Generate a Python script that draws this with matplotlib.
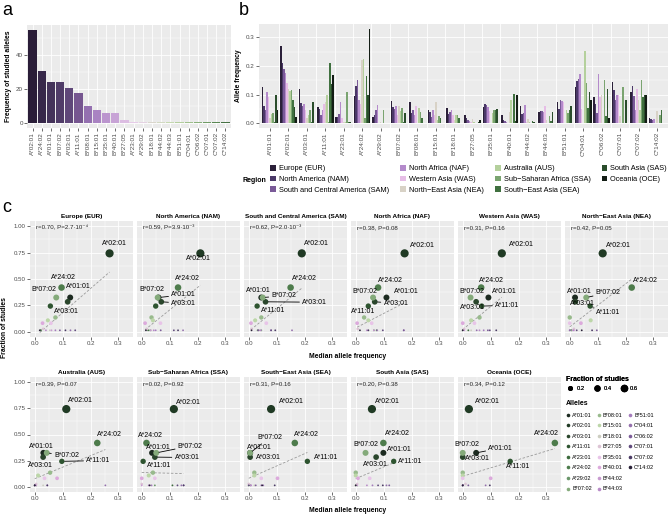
import numpy as np
import matplotlib.pyplot as plt
from matplotlib.lines import Line2D
from matplotlib.patches import Patch

plt.rcParams['font.family'] = ['Liberation Sans', 'DejaVu Sans']

W, H = 669, 515
BG = "#EBEBEB"
TXT = "#4D4D4D"

# ---------------- data ----------------
alleles = ["A*01:01", "A*02:01", "A*03:01", "A*11:01", "A*23:01", "A*24:02", "A*29:02",
           "B*07:02", "B*08:01", "B*15:01", "B*18:01", "B*27:05", "B*35:01", "B*40:01",
           "B*44:02", "B*44:03", "B*51:01", "C*04:01", "C*06:02", "C*07:01", "C*07:02", "C*14:02"]

# panel a: number of studies per allele (ranked)
ranked_alleles = ["A*02:01", "A*24:02", "A*01:01", "B*07:02", "A*03:01", "A*11:01", "B*08:01",
                  "B*15:01", "B*35:01", "B*40:01", "B*27:05", "A*23:01", "A*29:02", "B*18:01",
                  "B*44:02", "B*44:03", "B*51:01", "C*04:01", "C*06:02", "C*07:01", "C*07:02", "C*14:02"]
ranked_counts = [55, 31, 24, 24, 21, 18, 10, 8, 6, 6, 2, 1, 1, 1, 1, 1, 1, 1, 1, 1, 1, 1]
n_studies = 74

region_names = ["Europe (EUR)", "North America (NAM)", "South and Central America (SAM)",
                "North Africa (NAF)", "Western Asia (WAS)", "North\u2212East Asia (NEA)",
                "Australia (AUS)", "Sub\u2212Saharan Africa (SSA)", "South\u2212East Asia (SEA)",
                "South Asia (SAS)", "Oceania (OCE)"]
region_codes = ["EUR", "NAM", "SAM", "NAF", "WAS", "NEA", "AUS", "SSA", "SEA", "SAS", "OCE"]

# allele frequencies per region (same allele order as `alleles`)
freq_EUR = [.127, .268, .118, .056, .022, .096, .022, .077, .074, .047, .054, .030, .058, .028, .060, .040, .074, .128, .090, .145, .110, .018]
freq_NAM = [.060, .210, .070, .050, .023, .130, .030, .057, .035, .040, .033, .018, .067, .012, .032, .043, .050, .148, .068, .115, .130, .015]
freq_SAM = [.045, .190, .060, .030, .032, .150, .045, .050, .045, .023, .040, .010, .063, .008, .035, .043, .080, .155, .035, .080, .095, .010]
freq_NAF = [.110, .175, .068, .045, .075, .080, .065, .062, .030, .045, .046, .007, .057, .005, .065, .040, .077, .172, .172, .097, .045, .015]
freq_WAS = [.092, .140, .048, .068, .020, .066, .000, .028, .060, .030, .030, .005, .042, .000, .005, .060, .075, .050, .090, .097, .120, .000]
freq_NEA = [.019, .118, .020, .073, .005, .222, .005, .059, .000, .075, .010, .015, .000, .040, .015, .012, .000, .000, .097, .025, .080, .043]
freq_AUS = [.031, .113, .030, .097, .005, .224, .000, .043, .055, .012, .030, .005, .035, .080, .005, .000, .045, .253, .000, .000, .045, .000]
freq_SSA = [.037, .115, .047, .005, .110, .017, .047, .052, .040, .025, .030, .000, .047, .000, .000, .025, .035, .142, .150, .128, .150, .028]
freq_SEA = [.005, .080, .005, .210, .005, .165, .000, .005, .020, .020, .020, .000, .045, .103, .008, .008, .045, .052, .025, .000, .093, .048]
freq_SAS = [.099, .058, .073, .136, .005, .099, .000, .035, .000, .000, .000, .005, .050, .008, .005, .040, .060, .110, .120, .080, .097, .000]
freq_OCE = [.048, .022, .000, .170, .000, .330, .000, .000, .000, .000, .000, .010, .000, .100, .000, .000, .000, .082, .020, .000, .097, .000]

freqs = {"EUR": freq_EUR, "NAM": freq_NAM, "SAM": freq_SAM, "NAF": freq_NAF, "WAS": freq_WAS,
         "NEA": freq_NEA, "AUS": freq_AUS, "SSA": freq_SSA, "SEA": freq_SEA, "SAS": freq_SAS,
         "OCE": freq_OCE}

r_text = {"EUR": "r=0.70, P=2.7\u00b710\u207b\u2074", "NAM": "r=0.59, P=3.9\u00b710\u207b\u00b3",
          "SAM": "r=0.62, P=2.0\u00b710\u207b\u00b3", "NAF": "r=0.38, P=0.08",
          "WAS": "r=0.31, P=0.16", "NEA": "r=0.42, P=0.05", "AUS": "r=0.39, P=0.07",
          "SSA": "r=0.02, P=0.92", "SEA": "r=0.31, P=0.16", "SAS": "r=0.20, P=0.38",
          "OCE": "r=0.34, P=0.12"}

# label placement for the repelled labels (x, y, draw segment)
label_pos = {
    "EUR": {"A*02:01": (.286, .84, 0), "A*24:02": (.102, .51, 0), "B*07:02": (.033, .40, 0),
            "A*01:01": (.158, .43, 0), "A*03:01": (.114, .19, 0)},
    "NAM": {"A*02:01": (.204, .69, 0), "A*24:02": (.165, .50, 0), "B*07:02": (.037, .40, 0),
            "A*01:01": (.15, .35, 1), "A*03:01": (.15, .27, 1)},
    "SAM": {"A*02:01": (.242, .84, 0), "A*24:02": (.20, .50, 0), "A*01:01": (.033, .39, 0),
            "B*07:02": (.126, .34, 1), "A*03:01": (.236, .28, 1), "A*11:01": (.087, .20, 0)},
    "NAF": {"A*02:01": (.239, .82, 0), "A*24:02": (.126, .49, 0), "B*07:02": (.031, .38, 0),
            "A*01:01": (.18, .38, 0), "A*03:01": (.144, .27, 1), "A*11:01": (.025, .19, 0)},
    "WAS": {"A*02:01": (.212, .83, 0), "A*24:02": (.103, .49, 0), "B*07:02": (.034, .38, 0),
            "A*01:01": (.15, .38, 0), "A*03:01": (.034, .23, 0), "A*11:01": (.159, .25, 1)},
    "NEA": {"A*02:01": (.174, .82, 0), "A*24:02": (.27, .49, 0), "A*01:01": (.035, .38, 0),
            "B*07:02": (.138, .37, 1), "A*03:01": (.047, .27, 0), "A*11:01": (.138, .18, 1)},
    "AUS": {"A*02:01": (.165, .83, 0), "A*24:02": (.269, .50, 0), "A*01:01": (.025, .385, 0),
            "B*07:02": (.114, .30, 1), "A*03:01": (.019, .20, 0), "A*11:01": (.228, .25, 1)},
    "SSA": {"A*02:01": (.168, .81, 0), "A*24:02": (.031, .49, 0), "A*01:01": (.058, .38, 0),
            "B*07:02": (.174, .39, 1), "A*03:01": (.162, .28, 1), "A*11:01": (.061, .20, 0)},
    "SEA": {"A*02:01": (.152, .82, 0), "A*24:02": (.206, .50, 0), "B*07:02": (.075, .47, 1),
            "A*01:01": (.039, .38, 0), "A*03:01": (.069, .28, 0), "A*11:01": (.278, .28, 0)},
    "SAS": {"A*02:01": (.114, .82, 0), "A*24:02": (.15, .51, 0), "B*07:02": (.037, .40, 0),
            "A*01:01": (.156, .36, 0), "A*03:01": (.07, .21, 0), "A*11:01": (.194, .245, 0)},
    "OCE": {"A*02:01": (.087, .82, 0), "A*24:02": (.30, .51, 0), "B*07:02": (.015, .40, 0),
            "A*01:01": (.136, .37, 1), "A*03:01": (.051, .27, 0), "A*11:01": (.20, .19, 0)},
}

# ---------------- colours ----------------
region_colors = ["#2b2039", "#4b3868", "#7a5a98", "#b48acb", "#e6bde6", "#d8d2c6",
                 "#b4d09c", "#7aa470", "#40703f", "#2a4d2b", "#131d15"]
rank_colors = ["#2a1d38", "#37284a", "#44335a", "#503c68", "#5f4779", "#765690", "#9470b0",
               "#a983c2", "#bb95ce", "#c8a4d6", "#dcbde2", "#e6cbe8", "#e4d2e2", "#dad6cc",
               "#d2d9c2", "#c5d8b0", "#b4cf9e", "#9fc08c", "#88b07a", "#709c66", "#5a8854", "#467244"]
allele_colors = ["#1c2a20", "#203a24", "#2a462c", "#2e5430", "#3c6a3c", "#4e7c4c", "#6a966a",
                 "#84aa7a", "#98ba8c", "#bcd6a8", "#cccdc0", "#dcc4d4", "#e8c4e8", "#dcaadc",
                 "#c89ad0", "#b88ac8", "#a47cbc", "#9470ac", "#7c5c98", "#604a7c", "#4a3a64", "#282036"]


def px_axes(fig, l, t, r, b):
    return fig.add_axes([l / W, 1 - b / H, (r - l) / W, (b - t) / H])


def gg_style(ax, fs=4.5):
    ax.set_facecolor(BG)
    for s in ax.spines.values():
        s.set_visible(False)
    ax.tick_params(which="major", length=2, width=0.5, color="#333333",
                   labelsize=fs, labelcolor=TXT, pad=1)
    ax.tick_params(which="minor", length=0)
    ax.set_axisbelow(True)


def point_size(v, vmin=1 / 74, vmax=55 / 74):
    # ggplot-like area scale: diameter linear in sqrt of rescaled value
    d_px = 1.8 + np.sqrt(np.clip((np.asarray(v) - vmin) / (vmax - vmin), 0, None)) * 6.4
    return d_px / 1.389


fig = plt.figure(figsize=(W / 100, H / 100), dpi=100)

# ---------------- panel a ----------------
ax = px_axes(fig, 27, 25, 231, 128)
gg_style(ax)
xa = np.arange(len(ranked_alleles))
ax.bar(xa, ranked_counts, width=0.9, color=rank_colors)
ax.set_xlim(-0.6, len(xa) - 0.4)
ax.set_ylim(-2.75, 57.75)
ax.set_yticks([0, 20, 40])
ax.set_yticks([10, 30, 50], minor=True)
ax.set_xticks(xa)
ax.set_xticklabels(ranked_alleles, rotation=90, fontsize=4.6)
ax.grid(which="major", color="white", lw=0.6)
ax.grid(which="minor", axis="y", color="white", lw=0.3)
ax.set_ylabel("Frequency of studied alleles", fontsize=4.9, fontweight="bold", labelpad=3)
fig.text(2 / W, 1 - 2 / H, "a", fontsize=13, va="top")

# ---------------- panel b ----------------
ax = px_axes(fig, 259, 24, 668, 128)
gg_style(ax)
ng, nr = len(alleles), len(region_codes)
bw = 0.9 / nr
xg = np.arange(ng)
for j, code in enumerate(region_codes):
    ax.bar(xg - 0.45 + (j + 0.5) * bw, freqs[code], width=bw, color=region_colors[j], lw=0)
ax.set_xlim(-0.6, ng - 0.4)
ax.set_ylim(-0.0165, 0.3465)
ax.set_yticks([0, .1, .2, .3])
ax.set_yticklabels(["0.0", "0.1", "0.2", "0.3"])
ax.set_yticks([.05, .15, .25], minor=True)
ax.set_xticks(xg)
ax.set_xticklabels(alleles, rotation=90, fontsize=4.6)
ax.grid(which="major", axis="y", color="white", lw=0.6)
ax.grid(which="minor", axis="y", color="white", lw=0.3)
for k in range(ng - 1):
    ax.axvline(k + 0.5, color="white", lw=0.6, zorder=0.5)
ax.set_ylabel("Allele frequency", fontsize=4.9, fontweight="bold", labelpad=3)
fig.text(239 / W, 1 - 2 / H, "b", fontsize=13, va="top")

handles = [Patch(facecolor=c, edgecolor="none") for c in region_colors]
fig.legend(handles, region_names, ncol=4, loc="upper left",
           bbox_to_anchor=(270 / W, 1 - 165 / H), frameon=False, fontsize=5.3,
           handlelength=0.8, handleheight=0.8, handletextpad=0.4,
           columnspacing=1.5, labelspacing=0.45, borderaxespad=0, borderpad=0)
fig.text(242 / W, 1 - 180 / H, "Region", fontsize=5.0, fontweight="bold", va="center")

# ---------------- panel c ----------------
frac = {a: c / n_studies for a, c in zip(ranked_alleles, ranked_counts)}
yfrac = np.array([frac[a] for a in alleles])

rows = [(221, 337, region_codes[:6]), (377, 492, region_codes[6:])]
pitch, pw = 107, 103
for top, bot, codes in rows:
    for i, code in enumerate(codes):
        left = 30 + i * pitch
        ax = px_axes(fig, left, top, left + pw, bot)
        gg_style(ax, fs=4.4)
        xs = np.array(freqs[code])
        ax.scatter(xs, yfrac, s=point_size(yfrac) ** 2, c=allele_colors, lw=0, zorder=3)
        m, c0 = np.polyfit(xs, yfrac, 1)
        xl = np.array([xs.min(), xs.max()])
        ax.plot(xl, m * xl + c0, ls=(0, (3, 2)), color="#9a9a9a", lw=0.6, zorder=2)
        for al, (lx, ly, seg) in label_pos[code].items():
            k = alleles.index(al)
            if seg:
                ax.annotate(al, xy=(xs[k], yfrac[k]), xytext=(lx, ly), fontsize=5,
                            ha="center", va="center", zorder=4,
                            arrowprops=dict(arrowstyle="-", color="black", lw=0.6,
                                            shrinkA=0, shrinkB=2))
            else:
                ax.text(lx, ly, al, fontsize=5, ha="center", va="center", zorder=4)
        ax.text(0.06, 0.945, r_text[code], transform=ax.transAxes, fontsize=4.4,
                va="center", color="#222222")
        ax.set_xlim(-0.017, 0.352)
        ax.set_ylim(-0.05, 1.05)
        ax.set_xticks([0, .1, .2, .3])
        ax.set_xticklabels(["0.0", "0.1", "0.2", "0.3"])
        ax.set_xticks([.05, .15, .25], minor=True)
        ax.set_yticks([0, .25, .5, .75, 1])
        ax.set_yticks([.125, .375, .625, .875], minor=True)
        if i == 0:
            ax.set_yticklabels(["0.00", "0.25", "0.50", "0.75", "1.00"])
        else:
            ax.set_yticklabels([])
            ax.tick_params(axis="y", length=0)
        ax.grid(which="major", color="white", lw=0.6)
        ax.grid(which="minor", color="white", lw=0.3)
        ax.set_title(region_names[region_codes.index(code)], fontsize=4.6,
                     fontweight="bold", pad=2.5)
    fig.text(348 / W, 1 - (bot + 19) / H, "Median allele frequency", fontsize=4.9,
             fontweight="bold", ha="center", va="center")

fig.text(5 / W, 1 - 328 / H, "Fraction of studies", fontsize=4.9, fontweight="bold",
         rotation=90, ha="center", va="center")
fig.text(2 / W, 1 - 199 / H, "c", fontsize=13, va="top")

# legends for panel c
size_vals = [0.2, 0.4, 0.6]
size_handles = [Line2D([], [], ls="", marker="o", color="black", markeredgewidth=0,
                       markersize=point_size(v)) for v in size_vals]
lg = fig.legend(size_handles, [str(v) for v in size_vals], ncol=3, loc="upper left",
                bbox_to_anchor=(566 / W, 1 - 376 / H), frameon=False, fontsize=4.2,
                title="Fraction of studies", title_fontproperties={"weight": "bold", "size": 5},
                alignment="left", handlelength=1.4, handletextpad=0.4, columnspacing=1.4,
                borderaxespad=0, borderpad=0)
fig.add_artist(lg)
al_handles = [Line2D([], [], ls="", marker="o", color=c, markeredgewidth=0, markersize=2.6)
              for c in allele_colors]
al_labels = list(alleles)
# pad the last column so the legend reads 8 / 8 / 6
al_handles += [Line2D([], [], ls="", marker="")] * 2
al_labels += ["", ""]
fig.legend(al_handles, al_labels, ncol=3, loc="upper left",
           bbox_to_anchor=(566 / W, 1 - 400 / H), frameon=False, fontsize=4.0,
           title="Alleles", title_fontproperties={"weight": "bold", "size": 5},
           alignment="left", handlelength=0.8, handletextpad=0.3, columnspacing=0.9,
           labelspacing=1.0, borderaxespad=0, borderpad=0)

fig.savefig("out.png", dpi=100)
